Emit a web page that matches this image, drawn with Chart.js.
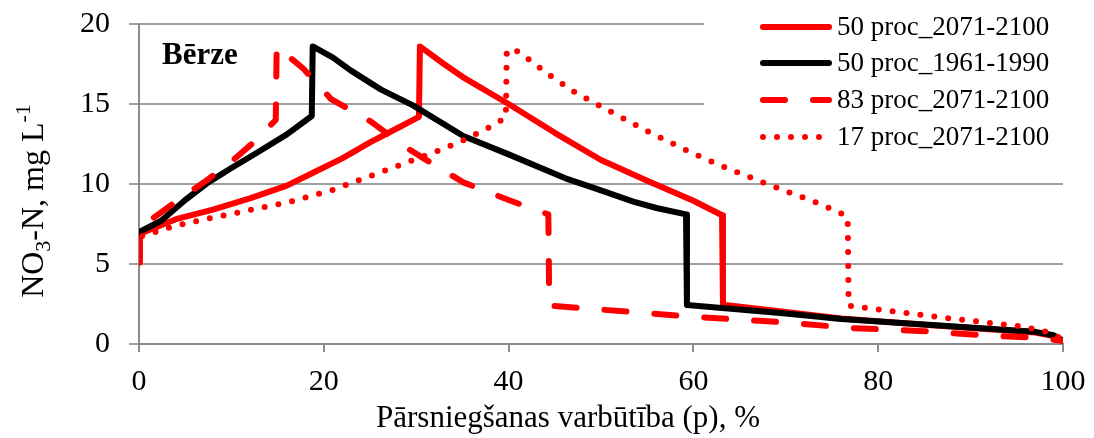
<!DOCTYPE html>
<html>
<head>
<meta charset="utf-8">
<script src="https://cdn.jsdelivr.net/npm/chart.js@4.4.1/dist/chart.umd.min.js"></script>
<style>
  body { margin: 0; background: #fff; }
  #wrap { width: 1094px; height: 438px; position: relative; }
</style>
</head>
<body>
<div id="wrap"><canvas id="chart"></canvas></div>
<script>
// Pārsniegšanas varbūtība (p), % un NO3-N koncentrācija, mg/L
const p50Future = [0, 0.1, 4, 8, 12, 16, 19, 22, 25, 28, 30.3, 30.4, 33, 35, 40, 45, 50, 55, 60, 63.1, 63.2, 70, 76, 85, 92, 97, 99, 100];
const n50Future = [5.1, 6.9, 7.8, 8.4, 9.1, 9.9, 10.75, 11.6, 12.6, 13.5, 14.2, 18.6, 17.5, 16.7, 15.0, 13.2, 11.5, 10.2, 8.95, 8.05, 2.45, 2.0, 1.6, 1.2, 0.92, 0.72, 0.5, 0.2];

const p50Past = [0, 2.4, 5, 7.5, 10, 12.9, 16, 18.7, 18.8, 21, 22.9, 26.2, 29.7, 35.1, 40, 46.4, 50, 53.5, 56, 59.2, 59.3, 65, 70, 76, 85, 92, 97, 99, 100];
const n50Past = [7.0, 7.7, 9.0, 10.1, 11.0, 12.0, 13.1, 14.25, 18.6, 17.9, 17.1, 15.9, 14.9, 13.0, 11.85, 10.3, 9.6, 8.9, 8.5, 8.1, 2.44, 2.15, 1.9, 1.56, 1.22, 0.95, 0.76, 0.55, 0.2];

const p83Future = [0, 0.1, 1.6, 4.5, 7.5, 10, 12.4, 14.8, 14.9, 17.8, 20.8, 25.1, 28.6, 30.8, 35.1, 40, 44.3, 44.4, 50, 60, 70, 77, 85, 92, 97, 100];
const n83Future = [5.1, 6.9, 7.9, 9.1, 10.3, 11.4, 12.6, 14.0, 18.6, 17.2, 15.3, 13.9, 12.4, 11.6, 10.1, 9.0, 8.1, 2.4, 2.15, 1.7, 1.35, 1.0, 0.8, 0.52, 0.4, 0.2];

const p17Future = [0, 0.1, 4, 8, 11, 16.4, 20.8, 26.2, 31.6, 35, 38.1, 39.7, 39.8, 40.5, 41.5, 44.2, 47, 49.2, 55, 60, 64, 68, 73.7, 76.2, 76.7, 76.8, 81.3, 87.8, 95.4, 98, 100];
const n17Future = [5.1, 6.7, 7.4, 7.9, 8.25, 8.9, 9.6, 10.75, 11.9, 12.7, 13.6, 14.15, 18.3, 18.45, 18.1, 16.9, 15.8, 15.1, 13.3, 11.9, 10.9, 10.0, 8.75, 8.1, 7.9, 2.4, 2.06, 1.6, 1.1, 0.8, 0.3];

const seriesNames = ['50 proc_2071-2100', '50 proc_1961-1990', '83 proc_2071-2100', '17 proc_2071-2100'];
const xTicks = [0, 20, 40, 60, 80, 100];
const yTicks = [0, 5, 10, 15, 20];

const serif = '"Liberation Serif", "Times New Roman", serif';

function toPoints(xs, ys) {
  return xs.map((x, i) => ({ x: x, y: ys[i] }));
}

const lineStyles = [
  { color: '#ff0000', dash: [] },
  { color: '#000000', dash: [] },
  { color: '#ff0000', dash: [22, 28] },
  { color: '#ff0000', dash: [0, 14] }
];

function makeDataset(i, xs, ys) {
  return {
    label: seriesNames[i],
    data: toPoints(xs, ys),
    borderColor: lineStyles[i].color,
    backgroundColor: lineStyles[i].color,
    borderDash: lineStyles[i].dash,
    borderWidth: 6,
    borderCapStyle: 'round',
    borderJoinStyle: 'round',
    pointRadius: 0,
    tension: 0,
    fill: false,
    order: 4 - i
  };
}

// skalas nepieprasa papildu vietu malās
function noEdgePadding(s) {
  s.paddingTop = 0;
  s.paddingBottom = 0;
  s.paddingLeft = 0;
  s.paddingRight = 0;
}

// uzraksti, ass nosaukumi un leģenda
const extrasPlugin = {
  id: 'extras',
  afterDraw(chart) {
    const ctx = chart.ctx;
    ctx.save();

    // leģendas fons
    ctx.fillStyle = '#fff';
    ctx.fillRect(704, 0, 390, 158);

    const rowY = [27, 63, 100, 137];
    chart.data.datasets.forEach((ds, i) => {
      ctx.save();
      ctx.strokeStyle = ds.borderColor;
      ctx.lineWidth = 6;
      ctx.lineCap = 'round';
      ctx.setLineDash(ds.borderDash);
      ctx.beginPath();
      ctx.moveTo(763, rowY[i]);
      ctx.lineTo(829, rowY[i]);
      ctx.stroke();
      ctx.restore();
      ctx.fillStyle = '#000';
      ctx.font = '27px ' + serif;
      ctx.textBaseline = 'middle';
      ctx.textAlign = 'left';
      ctx.fillText(ds.label, 837, rowY[i] + 1);
    });

    // Bērze
    ctx.fillStyle = '#000';
    ctx.font = 'bold 31px ' + serif;
    ctx.textBaseline = 'alphabetic';
    ctx.textAlign = 'left';
    ctx.fillText('Bērze', 162, 64);

    // x ass nosaukums
    ctx.font = '31px ' + serif;
    ctx.textAlign = 'center';
    ctx.fillText('Pārsniegšanas varbūtība (p), %', 568, 427);

    // y ass nosaukums ar indeksiem
    const big = '32px ' + serif;
    const small = '22px ' + serif;
    const parts = [
      { t: 'NO', f: big, dy: 0 },
      { t: '3', f: small, dy: 7 },
      { t: '-N, mg L', f: big, dy: 0 },
      { t: '-1', f: small, dy: -13 }
    ];
    let total = 0;
    parts.forEach(p => { ctx.font = p.f; p.w = ctx.measureText(p.t).width; total += p.w; });
    ctx.translate(43, 201);
    ctx.rotate(-Math.PI / 2);
    ctx.textAlign = 'left';
    let x = -total / 2;
    parts.forEach(p => {
      ctx.font = p.f;
      ctx.fillText(p.t, x, p.dy);
      x += p.w;
    });
    ctx.restore();
  }
};

const ctx = document.getElementById('chart').getContext('2d');
new Chart(ctx, {
  type: 'line',
  data: {
    datasets: [
      makeDataset(0, p50Future, n50Future),
      makeDataset(1, p50Past, n50Past),
      makeDataset(2, p83Future, n83Future),
      makeDataset(3, p17Future, n17Future)
    ]
  },
  options: {
    responsive: true,
    maintainAspectRatio: false,
    animation: false,
    layout: { padding: { left: 0, right: 31, top: 24, bottom: 0 } },
    plugins: {
      legend: { display: false },
      tooltip: { enabled: false }
    },
    scales: {
      x: {
        type: 'linear',
        min: xTicks[0],
        max: xTicks[xTicks.length - 1],
        afterBuildTicks: s => { s.ticks = xTicks.map(v => ({ value: v })); },
        afterFit: s => { s.height = 94; noEdgePadding(s); },
        ticks: { color: '#000', font: { family: serif, size: 30 }, padding: 12, maxRotation: 0 },
        grid: { drawOnChartArea: false, drawTicks: true, tickLength: 8, color: '#8c8c8c', lineWidth: 2 },
        border: { color: '#8c8c8c', width: 2 }
      },
      y: {
        min: yTicks[0],
        max: yTicks[yTicks.length - 1],
        afterBuildTicks: s => { s.ticks = yTicks.map(v => ({ value: v })); },
        afterFit: s => { s.width = 139; noEdgePadding(s); },
        ticks: { color: '#000', font: { family: serif, size: 30 }, padding: 19 },
        grid: { color: '#a0a0a0', lineWidth: 2, tickLength: 10 },
        border: { color: '#8c8c8c', width: 2 }
      }
    }
  },
  plugins: [extrasPlugin]
});
</script>
</body>
</html>
